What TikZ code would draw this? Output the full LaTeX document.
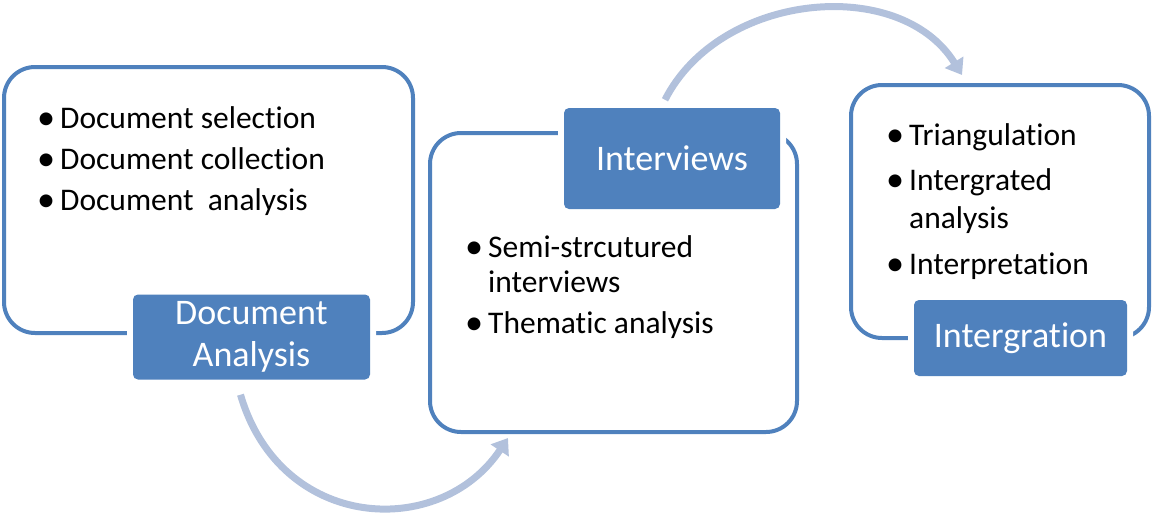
\documentclass[tikz,border=0pt]{standalone}
\usepackage{fontspec}
\setmainfont{Carlito}[Ligatures=NoCommon]
\usetikzlibrary{arrows.meta}

\definecolor{stageblue}{HTML}{4F81BD}
\definecolor{flowblue}{HTML}{B2C1DC}

\newcommand{\bul}{\makebox[22pt][l]{\hspace{-1pt}\raisebox{-1.5pt}{\scalebox{1.15}{\textbullet}}}}
\newcommand{\cnt}{\hspace*{22pt}}

\begin{document}
\begin{tikzpicture}[x=1pt, y=-1pt,
    stagebox/.style={draw=stageblue, line width=4pt, fill=white, rounded corners=31pt, inner sep=0pt},
    stagelabel/.style={fill=stageblue, text=white, rounded corners=5pt, inner sep=0pt,
        align=center, font=\fontsize{36}{42}\selectfont,
        preaction={draw=white, line width=12pt}},
    itemlist/.style={anchor=base west, inner sep=0pt, font=\fontsize{31.5}{35}\selectfont},
    flowarrow/.style={draw=flowblue, line width=7pt, -{Triangle[length=15pt,width=21pt]}}]
    \useasboundingbox (0,0) rectangle (1154,517);

    % the three stages
    \node[stagebox, minimum width=409pt, minimum height=266pt] (docBox) at (208.5,200) {};
    \node[stagebox, minimum width=367pt, minimum height=299pt] (intBox) at (613.5,282.5) {};
    \node[stagebox, minimum width=298pt, minimum height=253pt] (synBox) at (1000,211.5) {};

    \node[stagelabel, minimum width=237pt, minimum height=85pt] (docLabel) at (251.5,337) {Document\\Analysis};
    \node[stagelabel, minimum width=216pt, minimum height=101pt] (intLabel) at (672,158.5) {Interviews};
    \node[stagelabel, minimum width=213pt, minimum height=76pt] (synLabel) at (1020.5,338) {Intergration};

    % bullet lists
    \node[itemlist] (docItems) at (38,128) {\begin{tabular}[t]{@{}l@{}}
        \bul Document selection\\[6pt]
        \bul Document collection\\[6pt]
        \bul Document\ \ analysis
    \end{tabular}};
    \node[itemlist] (intItems) at (466,257) {\begin{tabular}[t]{@{}l@{}}
        \bul Semi-strcutured\\
        \cnt interviews\\[6pt]
        \bul Thematic analysis
    \end{tabular}};
    \node[itemlist, font=\fontsize{31.5}{38}\selectfont] (synItems) at (887,145) {\begin{tabular}[t]{@{}l@{}}
        \bul Triangulation\\[7pt]
        \bul Intergrated\\
        \cnt analysis\\[8pt]
        \bul Interpretation
    \end{tabular}};

    % arrows between stages
    \draw[flowarrow] ([xshift=-11pt,yshift=-15pt]docLabel.south)
        .. controls +(40,137) and +(-68,102) .. ([xshift=80pt,yshift=-4pt]intBox.south west);
    \draw[flowarrow] ([xshift=-7pt,yshift=8pt]intLabel.north)
        .. controls +(55,-108) and +(-62,-100) .. ([xshift=113pt,yshift=8pt]synBox.north west);
\end{tikzpicture}
\end{document}
